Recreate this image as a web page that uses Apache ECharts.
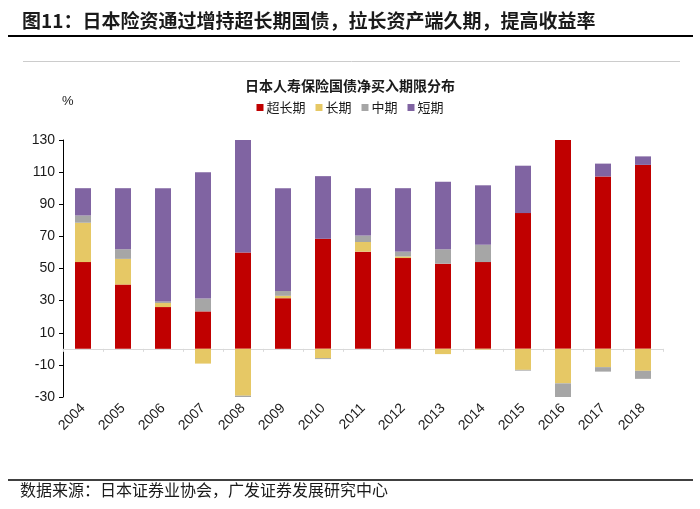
<!DOCTYPE html>
<html>
<head>
<meta charset="utf-8">
<script src="https://cdn.jsdelivr.net/npm/echarts@6/dist/echarts.min.js"></script>
<style>
html,body{margin:0;padding:0;background:#fff;}
#c{width:700px;height:509px;}
</style>
</head>
<body>
<div id="c"></div>
<script>
const years = ['2004','2005','2006','2007','2008','2009','2010','2011','2012','2013','2014','2015','2016','2017','2018'];
const superLong = [54, 40, 26, 23.3, 60, 31.5, 68.5, 60.5, 56.5, 53, 54, 84.5, 130, 107.3, 114.5];
const longTerm  = [24.5, 16, 2.5, -9.2, -29.2, 1.5, -5.8, 6, 1, -3.3, -0.5, -13.1, -21.5, -11.4, -13.7];
const midTerm   = [4.5, 6, 1, 8, -0.8, 3, -0.6, 4, 3, 9, 10.8, -0.5, -8.7, -2.8, -5];
const shortTerm = [17, 38, 70.5, 78.7, 70, 64, 39, 29.5, 39.5, 42, 37, 29.5, 0, 8, 5.3];
const yTicks = [-30, -10, 10, 30, 50, 70, 90, 110, 130];
const seriesNames = ['超长期', '长期', '中期', '短期'];
const colors = ['#C00000', '#E6C865', '#A6A6A6', '#8064A2'];

const cjk = '"Noto Sans CJK SC", sans-serif';
const chart = echarts.init(document.getElementById('c'));
const dataSets = [superLong, longTerm, midTerm, shortTerm];

chart.setOption({
  animation: false,
  color: colors,
  title: {
    text: '日本人寿保险国债净买入期限分布',
    left: 'center',
    top: 74,
    textStyle: {fontFamily: cjk, fontSize: 14, fontWeight: 'bold', color: '#1a1a1a'}
  },
  legend: {
    data: seriesNames,
    top: 96,
    left: 'center',
    itemWidth: 7,
    itemHeight: 7,
    itemGap: 10,
    icon: 'rect',
    textStyle: {fontFamily: cjk, fontSize: 13, color: '#1a1a1a', padding: [0, 0, 0, -2]}
  },
  grid: {left: 63, right: 37, top: 140, bottom: 112, containLabel: false},
  xAxis: [
    {
      type: 'category',
      data: years,
      axisLine: {onZero: true, lineStyle: {color: '#d9d9d9', width: 1}},
      axisTick: {show: true, alignWithLabel: false, length: 3, lineStyle: {color: '#d9d9d9'}},
      axisLabel: {show: false}
    },
    {
      type: 'category',
      data: years,
      position: 'bottom',
      axisLine: {show: false},
      axisTick: {show: false},
      axisLabel: {rotate: 45, fontFamily: 'Arial, "Liberation Sans", sans-serif', fontSize: 14, color: '#1a1a1a', margin: 9, interval: 0}
    }
  ],
  yAxis: {
    type: 'value',
    min: -30,
    max: 130,
    interval: 20,
    axisLine: {show: true, onZero: false, lineStyle: {color: '#000', width: 1}},
    axisTick: {show: true, length: 4, customValues: yTicks, lineStyle: {color: '#000'}},
    axisLabel: {customValues: yTicks, fontFamily: 'Arial, "Liberation Sans", sans-serif', fontSize: 14, color: '#1a1a1a', margin: 8},
    splitLine: {show: false}
  },
  series: seriesNames.map((n, i) => ({
    name: n,
    type: 'bar',
    stack: 'total',
    xAxisIndex: 0,
    barWidth: 16,
    data: dataSets[i],
    itemStyle: {color: colors[i]}
  })),
  graphic: [
    {type: 'text', left: 22, top: 11, style: {text: '图11：日本险资通过增持超长期国债，拉长资产端久期，提高收益率', font: 'bold 19px ' + cjk, fill: '#1a1a1a'}},
    {type: 'line', shape: {x1: 8, y1: 36, x2: 693, y2: 36}, style: {stroke: '#000', lineWidth: 2}},
    {type: 'line', shape: {x1: 23, y1: 61.5, x2: 680, y2: 61.5}, style: {stroke: '#cccccc', lineWidth: 1}},
    {type: 'text', left: 62, top: 95, style: {text: '%', font: '13px Arial, sans-serif', fill: '#1a1a1a'}},
    {type: 'line', shape: {x1: 8, y1: 480, x2: 693, y2: 480}, style: {stroke: '#000', lineWidth: 1.5}},
    {type: 'text', left: 20, top: 482, style: {text: '数据来源：日本证券业协会，广发证券发展研究中心', font: '16px ' + cjk, fill: '#1a1a1a'}}
  ]
});
</script>
</body>
</html>
